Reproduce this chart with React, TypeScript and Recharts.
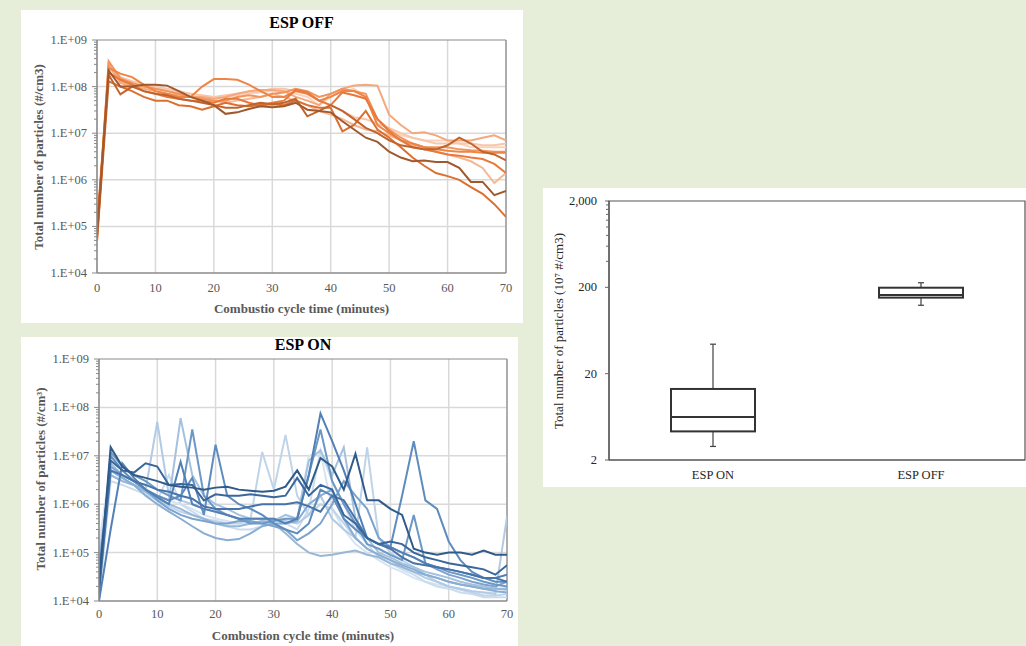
import React from 'react';
import {
  LineChart,
  Line,
  XAxis,
  YAxis,
  CartesianGrid,
  ReferenceLine,
  ComposedChart,
  Bar,
  ReferenceArea,
} from 'recharts';

const FONT = "'Liberation Serif','Times New Roman',Times,serif";

// ---------- shared axis data ----------
const minutes = [0, 2, 4, 6, 8, 10, 12, 14, 16, 18, 20, 22, 24, 26, 28, 30, 32, 34, 36, 38, 40, 42, 44, 46, 48, 50, 52, 54, 56, 58, 60, 62, 64, 66, 68, 70];
const xTicks = [0, 10, 20, 30, 40, 50, 60, 70];
const yMajor = [1e4, 1e5, 1e6, 1e7, 1e8, 1e9];
const yMajorLabels = ['1.E+04', '1.E+05', '1.E+06', '1.E+07', '1.E+08', '1.E+09'];
const minorFactors = [2, 3, 4, 5, 6, 7, 8, 9];
const yAllTicks = [
  ...yMajor,
  ...yMajor.slice(0, 5).flatMap((d) => minorFactors.map((f) => f * d)),
].sort((a, b) => a - b);

// ---------- ESP OFF series (dark -> light) ----------
const off1 = [6e4, 2.2e8, 1.0e8, 1.0e8, 1.1e8, 1.1e8, 1.05e8, 8e7, 6e7, 5e7, 4e7, 2.6e7, 2.8e7, 3.3e7, 3.8e7, 3.6e7, 3.8e7, 4.5e7, 3.2e7, 3.0e7, 2.8e7, 1.8e7, 1.2e7, 8e6, 6.5e6, 4e6, 3e6, 2.5e6, 2.6e6, 2.4e6, 2.4e6, 1.8e6, 9e5, 9e5, 4.7e5, 5.8e5];
const off2 = [8e4, 1.8e8, 6.8e7, 1.0e8, 8e7, 7e7, 6.5e7, 5.5e7, 5e7, 4.5e7, 4e7, 3.5e7, 3.5e7, 4e7, 4.5e7, 4.2e7, 4.5e7, 5.5e7, 2.3e7, 3e7, 4e7, 3e7, 2e7, 1.3e7, 1.0e7, 7e6, 5.5e6, 5e6, 4.5e6, 4.5e6, 5.5e6, 8e6, 6e6, 4e6, 3.5e6, 2.6e6];
const off3 = [5e4, 1.3e8, 1.0e8, 8e7, 6e7, 5e7, 5e7, 4e7, 3.8e7, 3.2e7, 3.8e7, 4.5e7, 4e7, 3.8e7, 4e7, 4.2e7, 4e7, 5e7, 4e7, 3.5e7, 3.5e7, 1.1e7, 1.5e7, 3e7, 1.2e7, 8e6, 5e6, 3e6, 2e6, 1.4e6, 1.2e6, 1.0e6, 7e5, 5e5, 3e5, 1.6e5];
const off4 = [1e5, 2.0e8, 1.4e8, 1.1e8, 8e7, 7e7, 6e7, 5.5e7, 5e7, 5e7, 4.5e7, 5.5e7, 5.5e7, 4.5e7, 4e7, 4.5e7, 5e7, 8.5e7, 7.5e7, 5e7, 4e7, 7.5e7, 6.5e7, 5.5e7, 2e7, 1.1e7, 7e6, 5e6, 4.5e6, 4e6, 3.5e6, 3.3e6, 3e6, 2.8e6, 2.2e6, 1.4e6];
const off5 = [7e4, 2.5e8, 1.9e8, 1.6e8, 1.1e8, 8e7, 7e7, 6e7, 6e7, 1e8, 1.45e8, 1.45e8, 1.4e8, 1.1e8, 8e7, 6e7, 6e7, 8e7, 7e7, 5e7, 6e7, 8e7, 8e7, 6e7, 1.5e7, 1e7, 7e6, 6e6, 5e6, 4.5e6, 4.2e6, 4e6, 4e6, 3.8e6, 3.8e6, 3.8e6];
const off6 = [6e4, 3.5e8, 1.5e8, 1.2e8, 1e8, 9e7, 8e7, 7e7, 6e7, 5.5e7, 5e7, 5e7, 6e7, 6.5e7, 6e7, 7e7, 7.5e7, 9e7, 8e7, 6e7, 7e7, 9e7, 8e7, 7e7, 2e7, 1.2e7, 8e6, 6e6, 5e6, 5e6, 5e6, 4.5e6, 4.3e6, 4.2e6, 4e6, 4e6];
const off7 = [5e4, 3e8, 1.2e8, 1e8, 9e7, 8e7, 7e7, 6.5e7, 6e7, 6e7, 5.5e7, 6e7, 7e7, 8e7, 8.5e7, 8.5e7, 8e7, 6e7, 5e7, 4e7, 7e7, 9e7, 1.05e8, 1.1e8, 1.05e8, 2.5e7, 1.5e7, 1e7, 1.05e7, 9e6, 7e6, 7e6, 7e6, 8e6, 9e6, 7e6];
const off8 = [8e4, 2.8e8, 1.3e8, 1.1e8, 1e8, 9e7, 8e7, 7e7, 6e7, 5.5e7, 5e7, 4.5e7, 5e7, 5.5e7, 6e7, 7e7, 6e7, 5e7, 4e7, 3e7, 2.5e7, 2e7, 1.5e7, 1.2e7, 1.1e7, 9e6, 7e6, 5.5e6, 4.5e6, 4e6, 3.5e6, 3e6, 2.5e6, 1.8e6, 8.5e5, 1.4e6];
const off9 = [5e4, 3.2e8, 1.6e8, 1.3e8, 1.1e8, 1e8, 9e7, 8e7, 7e7, 6.5e7, 6e7, 6.5e7, 7e7, 7.5e7, 8e7, 9e7, 9e7, 8e7, 7e7, 5e7, 4e7, 3e7, 2.2e7, 2e7, 1.6e7, 1.3e7, 1e7, 8e6, 7e6, 6e6, 6e6, 6e6, 6e6, 5.5e6, 5.5e6, 6e6];
const off10 = [9e4, 2.5e8, 1.5e8, 1.2e8, 1e8, 9e7, 8.5e7, 7.5e7, 7e7, 6e7, 5.5e7, 6e7, 6.5e7, 7e7, 7.5e7, 8e7, 8e7, 7e7, 6e7, 4e7, 6e7, 8e7, 9e7, 6e7, 2e7, 1.2e7, 9e6, 8e6, 7e6, 7e6, 7e6, 6e6, 5e6, 5e6, 5e6, 5e6];
const offSeries = [off1, off2, off3, off4, off5, off6, off7, off8, off9, off10];
const offColors = ['#a0582c', '#c0642e', '#dc6f2f', '#e8793a', '#ee8546', '#f1955e', '#f4a87c', '#f6b793', '#f8c6aa', '#fad3bd'];

// ---------- ESP ON series (dark -> light) ----------
const on1 = [2e4, 1.5e7, 6e6, 4e6, 3.5e6, 3e6, 2.5e6, 2.3e6, 2.2e6, 2e6, 2.2e6, 2.3e6, 2e6, 1.9e6, 1.8e6, 1.9e6, 2.3e6, 5e6, 2e6, 9e6, 6e6, 2e6, 1.1e7, 1.2e6, 1.2e6, 8e5, 6e5, 1.2e5, 1e5, 9e4, 1e5, 1e5, 9e4, 1.1e5, 9e4, 9e4];
const on2 = [3e4, 8e6, 5e6, 4.5e6, 7e6, 6e6, 2.5e6, 2.6e6, 2.5e6, 1.2e6, 1.6e6, 1.5e6, 1.5e6, 1.6e6, 1.5e6, 1.4e6, 1.5e6, 3.5e6, 1.5e6, 2.5e6, 2e6, 6e5, 4e5, 2e5, 1.5e5, 1.7e5, 1.5e5, 1e5, 8e4, 7e4, 6e4, 5.5e4, 5e4, 4.5e4, 3.5e4, 5.5e4];
const on3 = [1.5e4, 5e6, 4e6, 3e6, 2.5e6, 2e6, 1.8e6, 1.5e6, 1.3e6, 9e5, 8e5, 8e5, 8e5, 9e5, 1e6, 1e6, 1e6, 1.1e6, 9e5, 7e5, 1.5e6, 1.2e6, 5e5, 2e5, 1.5e5, 1.2e5, 8e4, 6e4, 5.5e4, 5e4, 4.5e4, 4e4, 3.5e4, 3e4, 3e4, 2.5e4];
const on4 = [1e4, 3e5, 7e6, 3.5e6, 2e6, 1.4e6, 1e6, 7.5e6, 1e6, 8e5, 7e5, 6e5, 5e5, 5e5, 5e5, 5e5, 4e5, 5e5, 4e6, 7.5e7, 2e7, 5e6, 1e6, 2e5, 1.5e5, 1.3e5, 1e5, 8e4, 6e4, 5e4, 4.5e4, 4e4, 3.5e4, 3e4, 3e4, 3.5e4];
const on5 = [2e4, 1e7, 5e6, 3e6, 2e6, 1.5e6, 1.2e6, 1.5e6, 3.5e6, 6e5, 1.7e7, 1.5e6, 1e6, 8e5, 6e5, 4e5, 3e5, 2.5e5, 4e5, 2e6, 1.5e6, 5e5, 3e5, 2e5, 1.5e5, 1.3e5, 1.5e6, 2e7, 1.2e6, 8e5, 1.7e5, 7e4, 4e4, 3e4, 2.5e4, 2.5e4];
const on6 = [1.5e4, 1.2e7, 6e6, 4e6, 3e6, 2e6, 1.5e6, 1.2e6, 3.5e7, 1.5e6, 8e5, 6e5, 5e5, 4e5, 4e5, 4.5e5, 5e5, 5e5, 4e6, 3.5e7, 3e6, 1e6, 4e5, 1.5e5, 1.2e5, 9e4, 7e4, 6e5, 6e4, 5e4, 4e4, 3.5e4, 3e4, 2.5e4, 2.2e4, 2e4];
const on7 = [5e4, 6e6, 4e6, 3e6, 2e6, 1.2e6, 8e5, 6e5, 5e5, 4.5e5, 4e5, 4e5, 4.5e5, 4.5e5, 4e5, 3.5e5, 3e5, 1.8e5, 2.5e5, 4e5, 1e6, 3e6, 1.5e6, 8e5, 2e5, 1.3e5, 1e5, 8e4, 6e4, 4.5e4, 3.5e4, 3e4, 2.5e4, 2.2e4, 2e4, 2.5e4];
const on8 = [3e4, 5e6, 3.5e6, 2.5e6, 1.5e6, 1e6, 7e5, 5e5, 3.5e5, 2.5e5, 2e5, 1.8e5, 1.9e5, 2.5e5, 3.5e5, 4e5, 4e5, 4.5e5, 1e6, 1.5e6, 2e6, 5e5, 2e5, 1.2e5, 9e4, 7e4, 5.5e4, 4.5e4, 3.5e4, 3e4, 2.5e4, 2.2e4, 2e4, 1.8e4, 1.6e4, 1.5e4];
const on9 = [2e4, 4e6, 3e6, 2.5e6, 1.8e6, 1.3e6, 1e6, 8e5, 6e5, 5e5, 4e5, 3.5e5, 3.5e5, 4e5, 4.5e5, 4e5, 2.5e5, 1.5e5, 1e5, 8.5e4, 9e4, 1e5, 1.1e5, 9e4, 8e4, 6e4, 5e4, 4e4, 3.5e4, 3e4, 2.5e4, 2.2e4, 2e4, 1.8e4, 1.8e4, 1.8e4];
const on10 = [1.5e4, 7e6, 4e6, 3e6, 2e6, 1.5e6, 1.2e6, 6e7, 4e6, 1.5e6, 1e6, 8e5, 6e5, 5e5, 5e5, 4.5e5, 6e5, 5e5, 8e6, 1.3e7, 4e6, 1.5e7, 5e5, 2e5, 1e5, 8e4, 6e4, 5e4, 4e4, 3.5e4, 3e4, 2.5e4, 2.2e4, 2e4, 1.8e4, 1.7e4];
const on11 = [8e4, 4e6, 3e6, 2.5e6, 2e6, 5e7, 1.5e6, 1.2e6, 1e6, 8e5, 7e5, 6e5, 5e5, 5e5, 5e5, 5e5, 4.5e5, 4e5, 6e5, 1.5e6, 5e5, 3e5, 2e5, 1.2e5, 9e4, 7e4, 5e4, 4e4, 3e4, 2.5e4, 2e4, 1.8e4, 1.6e4, 1.5e4, 1.4e4, 5.5e5];
const on12 = [4e4, 5e6, 3.5e6, 2.5e6, 1.8e6, 1.2e6, 9e5, 7e5, 6e5, 5e5, 4.5e5, 4e5, 4e5, 5e5, 1.2e7, 2e6, 2.7e7, 1.5e6, 6e5, 1e6, 8e5, 4e5, 2e5, 1.5e7, 2e5, 1e5, 7e4, 5e4, 3.5e4, 2.5e4, 2e4, 1.7e4, 1.5e4, 1.3e4, 1.3e4, 1.4e4];
const on13 = [1e4, 3e6, 2.5e6, 2e6, 1.6e6, 1.2e6, 4e6, 1e6, 7e5, 5e5, 4e5, 3.5e5, 3e5, 3e5, 3.5e5, 4e5, 4e5, 3e5, 8e5, 1.3e7, 3e6, 1e6, 3e5, 1.5e5, 8e4, 6e4, 4.5e4, 3.5e4, 2.5e4, 2e4, 1.8e4, 1.5e4, 1.4e4, 1.2e4, 1.2e4, 1.2e4];
const on14 = [1.5e5, 6e6, 4e6, 3e6, 2e6, 1.5e6, 1.2e6, 1e6, 8e5, 6e5, 5e5, 4.5e5, 4e5, 4e5, 4.5e5, 5e5, 5e5, 4.5e5, 1e7, 1.2e7, 8e5, 3e5, 1.5e5, 1e5, 7e4, 5e4, 4e4, 3e4, 2.5e4, 2.2e4, 2e4, 1.8e4, 1.6e4, 1.5e4, 1.5e4, 1.6e4];
const onSeries = [on1, on2, on3, on4, on5, on6, on7, on8, on9, on10, on11, on12, on13, on14];
const onColors = ['#2f5a8a', '#3a679b', '#4673a8', '#5280b4', '#5f8cbe', '#6d98c6', '#7ba3cd', '#89add3', '#97b7d8', '#a5c1de', '#b2cbe4', '#bfd4e9', '#cbdcee', '#d6e4f2'];

// ---------- box plot data ----------
const boxCategories = ['ESP ON', 'ESP OFF'];
const boxMin = [2.87, 124];
const boxQ1 = [4.29, 152];
const boxMedian = [6.28, 163];
const boxQ3 = [13.3, 198];
const boxMax = [43.9, 226];
const boxYMajor = [2, 20, 200, 2000];
const boxYLabels = ['2', '20', '200', '2,000'];
const boxYMinor = [400, 600, 800, 1000, 1200, 1400, 1600, 1800];

const boxRows = boxCategories.map((name, i) => ({
  name,
  whisker: [boxMin[i], boxMax[i]],
  box: [boxQ1[i], boxQ3[i]],
  median: boxMedian[i],
}));

function buildRows(series: number[][]) {
  return minutes.map((t, i) => {
    const r: Record<string, number> = { t };
    series.forEach((s, k) => {
      r['s' + k] = s[i];
    });
    return r;
  });
}

// ---------- tick renderers ----------
function makeYTick(o: {
  majors: number[];
  labels: string[];
  color: string;
  fontSize: number;
  gap: number;
  majorLen: number;
  minorLen: number;
  tickColor: string;
}) {
  return function YTick(props: any) {
    const { x, y, payload } = props;
    const v = Number(payload.value);
    const idx = o.majors.findIndex((m) => Math.abs(m - v) / m < 1e-6);
    const len = idx >= 0 ? o.majorLen : o.minorLen;
    return (
      <g>
        {len > 0 && <line x1={x - len} x2={x} y1={y} y2={y} stroke={o.tickColor} strokeWidth={1} />}
        {idx >= 0 && (
          <text x={x - o.gap} y={y} dominantBaseline="central" textAnchor="end" fill={o.color} fontSize={o.fontSize} fontFamily={FONT}>
            {o.labels[idx]}
          </text>
        )}
      </g>
    );
  };
}

function makeXTick(o: { dy: number; color: string; fontSize: number }) {
  return function XTick(props: any) {
    const { x, y, payload } = props;
    return (
      <text x={x} y={y + o.dy} dominantBaseline="central" textAnchor="middle" fill={o.color} fontSize={o.fontSize} fontFamily={FONT}>
        {payload.value}
      </text>
    );
  };
}

function Txt({ cx, cy, rotate, size, weight, color, children }: any) {
  return (
    <div
      style={{
        position: 'absolute',
        left: cx,
        top: cy,
        whiteSpace: 'nowrap',
        fontFamily: FONT,
        fontSize: size,
        fontWeight: weight,
        color,
        lineHeight: 1,
        transform: `translate(-50%, -50%)${rotate ? ' rotate(-90deg)' : ''}`,
        pointerEvents: 'none',
      }}
    >
      {children}
    </div>
  );
}

const AXIS_GRAY = '#8a8a8a';
const GRID = '#d9d9d9';
const TXT_GRAY = '#595959';

function LogLines({ width, height, margin, yWidth, xHeight, series, colors, xTickDy }: any) {
  const rows = buildRows(series);
  const YT = makeYTick({ majors: yMajor, labels: yMajorLabels, color: TXT_GRAY, fontSize: 12.5, gap: 10, majorLen: 5, minorLen: 3, tickColor: AXIS_GRAY });
  const XT = makeXTick({ dy: xTickDy, color: TXT_GRAY, fontSize: 12.5 });
  const order = series.map((_: any, k: number) => k).reverse();
  return (
    <LineChart width={width} height={height} data={rows} margin={margin}>
      <CartesianGrid horizontal={false} vertical stroke={GRID} strokeWidth={1.5} />
      {yMajor.slice(1, 5).map((v) => (
        <ReferenceLine key={v} y={v} stroke={GRID} strokeWidth={1.5} />
      ))}
      <ReferenceLine y={1e9} stroke={AXIS_GRAY} strokeWidth={1.2} />
      <ReferenceLine x={70} stroke={AXIS_GRAY} strokeWidth={1.2} />
      <XAxis
        dataKey="t"
        type="number"
        domain={[0, 70]}
        ticks={xTicks}
        interval={0}
        height={xHeight}
        tickSize={0}
        tickMargin={0}
        tick={XT}
        axisLine={{ stroke: AXIS_GRAY, strokeWidth: 1.5 }}
        allowDataOverflow
      />
      <YAxis
        type="number"
        scale="log"
        domain={[1e4, 1e9]}
        ticks={yAllTicks}
        interval={0}
        width={yWidth}
        tickSize={0}
        tickMargin={0}
        tick={YT}
        axisLine={{ stroke: AXIS_GRAY, strokeWidth: 1.5 }}
        allowDataOverflow
      />
      {order.map((k: number) => (
        <Line
          key={k}
          type="linear"
          dataKey={'s' + k}
          stroke={colors[k]}
          strokeWidth={2}
          dot={false}
          activeDot={false}
          isAnimationActive={false}
        />
      ))}
    </LineChart>
  );
}

const BOX_STROKE = '#333333';
const BOX_W = 84;

function WhiskerShape(p: any) {
  const cx = p.x + p.width / 2;
  const cap = 3;
  return (
    <g stroke="#404040" strokeWidth={1.2}>
      <line x1={cx} x2={cx} y1={p.y} y2={p.y + p.height} />
      <line x1={cx - cap} x2={cx + cap} y1={p.y} y2={p.y} />
      <line x1={cx - cap} x2={cx + cap} y1={p.y + p.height} y2={p.y + p.height} />
    </g>
  );
}

function BoxShape(p: any) {
  return <rect x={p.x} y={p.y} width={p.width} height={p.height} fill="#ffffff" stroke={BOX_STROKE} strokeWidth={2} />;
}

function MedianDot(p: any) {
  if (p.cx == null || p.cy == null) return <g key={p.key} />;
  return <line key={p.key} x1={p.cx - BOX_W / 2} x2={p.cx + BOX_W / 2} y1={p.cy} y2={p.cy} stroke={BOX_STROKE} strokeWidth={2} />;
}

function BoxPanel() {
  const YT = makeYTick({
    majors: boxYMajor,
    labels: boxYLabels,
    color: '#262626',
    fontSize: 12.5,
    gap: 12,
    majorLen: 4,
    minorLen: 3,
    tickColor: '#666',
  });
  const XT = makeXTick({ dy: 15, color: '#262626', fontSize: 12.5 });
  return (
    <ComposedChart width={483} height={299} data={boxRows} margin={{ top: 13, right: 1, left: 0, bottom: 0 }} barGap={-BOX_W}>
      <XAxis dataKey="name" type="category" height={27} tickSize={0} tickMargin={0} tick={XT} axisLine={{ stroke: '#555', strokeWidth: 1.2 }} />
      <YAxis
        type="number"
        scale="log"
        domain={[2, 2000]}
        ticks={[...boxYMajor, ...boxYMinor].sort((a, b) => a - b)}
        interval={0}
        width={66}
        tickSize={0}
        tickMargin={0}
        tick={YT}
        axisLine={{ stroke: '#555', strokeWidth: 1.2 }}
        allowDataOverflow
      />
      <ReferenceArea y1={2} y2={2000} fill="none" stroke="#555" strokeWidth={1.2} ifOverflow="visible" />
      <Bar dataKey="whisker" barSize={BOX_W} shape={WhiskerShape} isAnimationActive={false} />
      <Bar dataKey="box" barSize={BOX_W} shape={BoxShape} isAnimationActive={false} />
      <Line dataKey="median" stroke="none" dot={MedianDot} activeDot={false} isAnimationActive={false} />
    </ComposedChart>
  );
}

export default function App() {
  return (
    <div style={{ position: 'absolute', left: 0, top: 0, width: 1026, height: 646, background: '#e6eed9', overflow: 'hidden' }}>
      {/* ESP OFF */}
      <div style={{ position: 'absolute', left: 21, top: 10, width: 502, height: 313, background: '#fff' }}>
        <LogLines
          width={502}
          height={313}
          margin={{ top: 30, right: 17, left: 0, bottom: 0 }}
          yWidth={76}
          xHeight={50}
          series={offSeries}
          colors={offColors}
          xTickDy={15}
        />
        <Txt cx={280.5} cy={13} size={16} weight="bold" color="#000">ESP OFF</Txt>
        <Txt cx={16.5} cy={146.5} rotate size={13} weight="bold" color={TXT_GRAY}>Total number of particles (#/cm3)</Txt>
        <Txt cx={280.5} cy={298} size={13} weight="bold" color={TXT_GRAY}>Combustio cycle time (minutes)</Txt>
      </div>

      {/* ESP ON */}
      <div style={{ position: 'absolute', left: 21, top: 337, width: 497, height: 309, background: '#fff', overflow: 'visible' }}>
        <LogLines
          width={497}
          height={309}
          margin={{ top: 22, right: 11, left: 0, bottom: 0 }}
          yWidth={78}
          xHeight={45}
          series={onSeries}
          colors={onColors}
          xTickDy={13}
        />
        <Txt cx={282} cy={7.5} size={16} weight="bold" color="#000">ESP ON</Txt>
        <Txt cx={19} cy={142} rotate size={13} weight="bold" color={TXT_GRAY}>Total number of particles (#/cm³)</Txt>
        <Txt cx={282} cy={298} size={13} weight="bold" color={TXT_GRAY}>Combustion cycle time (minutes)</Txt>
      </div>

      {/* Box plot */}
      <div style={{ position: 'absolute', left: 543, top: 188, width: 483, height: 299, background: '#fff' }}>
        <BoxPanel />
        <Txt cx={15} cy={143} rotate size={13} color="#262626">Total number of particles (10⁷ #/cm3)</Txt>
      </div>
    </div>
  );
}
